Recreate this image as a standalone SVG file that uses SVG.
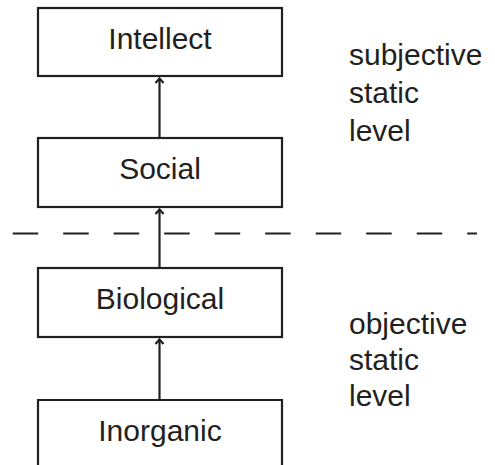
<svg xmlns="http://www.w3.org/2000/svg" width="495" height="465" viewBox="0 0 495 465">
<defs>
<style>
.box{fill:#fff;stroke:#231f20;stroke-width:2.2}
.lbl{font-family:"Liberation Sans",Arial,sans-serif;font-size:30px;fill:#231f20;text-anchor:middle}
.side{font-family:"Liberation Sans",Arial,sans-serif;font-size:30px;fill:#231f20}
.conn{stroke:#231f20;stroke-width:2.2;fill:none}
.dash{stroke:#231f20;stroke-width:2;stroke-dasharray:25.5 25;fill:none}
</style>
<marker id="ah" viewBox="0 0 10 12" refX="8.5" refY="6" markerWidth="10" markerHeight="12" markerUnits="userSpaceOnUse" orient="auto">
<path d="M3.5,2 L8,6 L3.5,10" fill="none" stroke="#231f20" stroke-width="2.2"/>
</marker>
</defs>
<rect width="495" height="465" fill="#fff"/>
<g id="connectors">
<line class="conn" x1="159.5" y1="138" x2="159.5" y2="78" marker-end="url(#ah)"/>
<line class="conn" x1="159.5" y1="268" x2="159.5" y2="209" marker-end="url(#ah)"/>
<line class="conn" x1="159.5" y1="400" x2="159.5" y2="339" marker-end="url(#ah)"/>
<line class="dash" x1="12.7" y1="233.5" x2="477" y2="233.5"/>
</g>
<g id="intellect">
<rect class="box" x="38" y="8" width="244" height="68"/>
<text class="lbl" x="160" y="49">Intellect</text>
</g>
<g id="social">
<rect class="box" x="38" y="138" width="244" height="69"/>
<text class="lbl" x="160" y="179">Social</text>
</g>
<g id="biological">
<rect class="box" x="38" y="268" width="244" height="69"/>
<text class="lbl" x="160" y="309">Biological</text>
</g>
<g id="inorganic">
<path class="box" d="M38,467 V400 H282 V467"/>
<text class="lbl" x="160" y="441">Inorganic</text>
</g>
<g id="subjective-label">
<text class="side" x="349" y="65">subjective</text>
<text class="side" x="349" y="103">static</text>
<text class="side" x="349" y="141">level</text>
</g>
<g id="objective-label">
<text class="side" x="349" y="334">objective</text>
<text class="side" x="349" y="370">static</text>
<text class="side" x="349" y="406">level</text>
</g>
</svg>
